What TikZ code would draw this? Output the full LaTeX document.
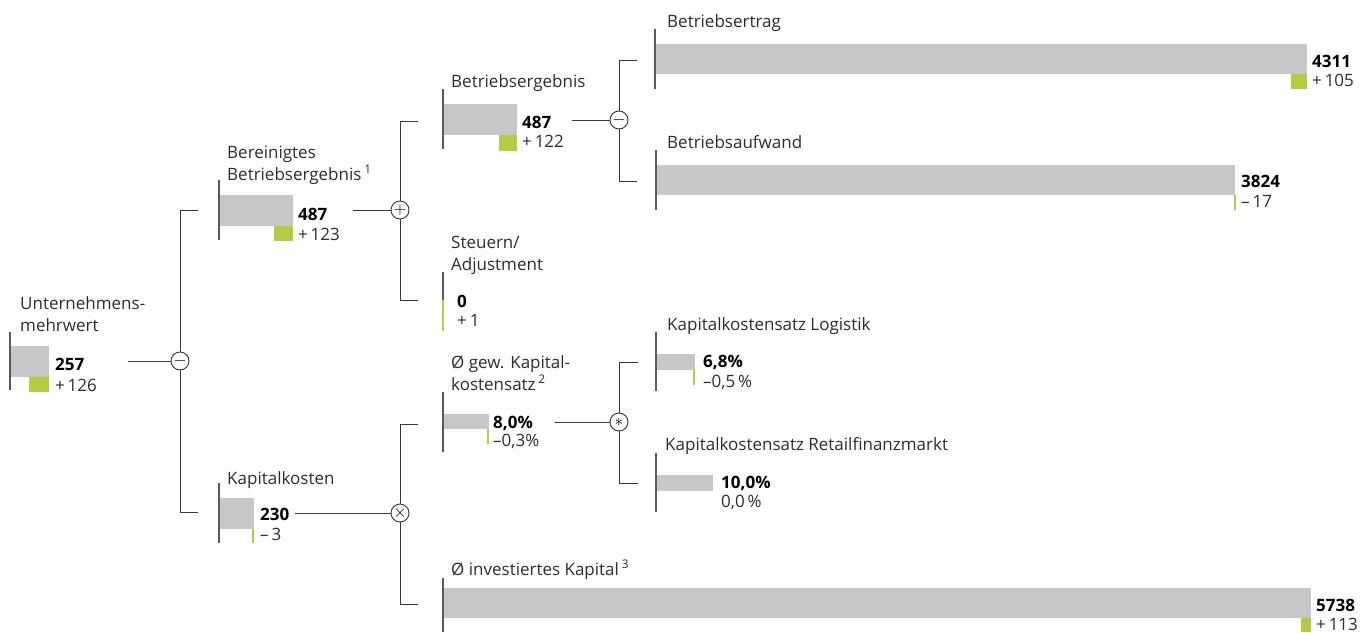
\documentclass[tikz,border=0pt]{standalone}
\usepackage{fontspec}
\setmainfont{Open Sans}
\usetikzlibrary{positioning}
\definecolor{bargray}{RGB}{198,199,201}
\definecolor{kpigreen}{RGB}{183,203,64}
\definecolor{axisgray}{RGB}{90,90,90}
\definecolor{linegray}{RGB}{55,55,55}
\definecolor{txtgray}{RGB}{45,45,45}

\begin{document}
\begin{tikzpicture}[x=1pt,y=-1pt,font=\fontsize{17}{22}\selectfont,
  every node/.style={inner sep=0pt,anchor=base west,text=txtgray},
  lbl/.style={align=left},
  val/.style={font=\fontsize{17}{22}\selectfont\bfseries,text=black},
  axis/.style={draw=axisgray,line width=1.3pt},
  chgline/.style={draw=kpigreen,line width=1.6pt},
  link/.style={draw=linegray,line width=0.9pt},
  op/.style={circle,draw=linegray,line width=0.9pt,fill=white,anchor=center,
    minimum size=18pt,text=black,font=\fontsize{16}{16}\selectfont}]
\useasboundingbox (0,0) rectangle (1368,632);
% --- Unternehmensmehrwert
\node[lbl] (mw) at (20,331) {Unternehmens-\\mehrwert};
\fill[bargray] (10,346) rectangle (49,377);
\fill[kpigreen] (29,377) rectangle (49,392);
\draw[axis] (10,332) -- (10,390);
\node[val] (mw-val) at (55,370) {257};
\node (mw-chg) at (55,391) {+\,126};
% --- Bereinigtes Betriebsergebnis
\node[lbl] (bbe) at (227,180) {Bereinigtes\\Betriebsergebnis\,\textsuperscript{1}};
\fill[bargray] (219,195) rectangle (293,226);
\fill[kpigreen] (274,226) rectangle (293,241);
\draw[axis] (219,180) -- (219,240);
\node[val] (bbe-val) at (298,220) {487};
\node (bbe-chg) at (298,240) {+\,123};
% --- Betriebsergebnis
\node (be) at (451,87) {Betriebsergebnis};
\fill[bargray] (443,104) rectangle (517,135);
\fill[kpigreen] (499,135) rectangle (517,151);
\draw[axis] (443,89) -- (443,149);
\node[val] (be-val) at (522,128) {487};
\node (be-chg) at (522,147) {+\,122};
% --- Betriebsertrag
\node (ber) at (667,27) {Betriebsertrag};
\fill[bargray] (655,44) rectangle (1307,74);
\fill[kpigreen] (1291,74) rectangle (1307,89);
\draw[axis] (655,29) -- (655,89);
\node[val] (ber-val) at (1312,67) {4311};
\node (ber-chg) at (1312,86) {+\,105};
% --- Betriebsaufwand
\node (bea) at (667,148) {Betriebsaufwand};
\fill[bargray] (656,165) rectangle (1235,195);
\draw[chgline] (1235,195) -- (1235,210);
\draw[axis] (656,150) -- (656,210);
\node[val] (bea-val) at (1241,187) {3824};
\node (bea-chg) at (1241,207) {–\,17};
% --- Steuern/Adjustment
\node[lbl] (st) at (451,270) {Steuern/\\Adjustment};
\draw[axis] (443,272) -- (443,300);
\draw[chgline] (443,300) -- (443,331);
\node[val] (st-val) at (457,307) {0};
\node (st-chg) at (457,326) {+\,1};
% --- Kapitalkosten
\node (kk) at (227,484) {Kapitalkosten};
\fill[bargray] (219,498) rectangle (254,529);
\draw[chgline] (253,529) -- (253,543);
\draw[axis] (219,483) -- (219,543);
\node[val] (kk-val) at (260,520) {230};
\node (kk-chg) at (260,540) {–\,3};
% --- Kapitalkostensatz
\node[lbl] (wacc) at (451,390) {Ø gew. Kapital-\\kostensatz\,\textsuperscript{2}};
\fill[bargray] (443,414) rectangle (489,429);
\draw[chgline] (488,429) -- (488,444);
\draw[axis] (443,392) -- (443,452);
\node[val] (wacc-val) at (493,428) {8,0\%};
\node (wacc-chg) at (493,446) {–0,3\%};
% --- Kapitalkostensatz Logistik
\node (kl) at (667,330) {Kapitalkostensatz Logistik};
\fill[bargray] (656,354) rectangle (695,370);
\draw[chgline] (694,370) -- (694,385);
\draw[axis] (656,332) -- (656,391);
\node[val] (kl-val) at (703,367) {6,8\%};
\node (kl-chg) at (703,387) {–0,5\,\%};
% --- Kapitalkostensatz Retailfinanzmarkt
\node (kr) at (665,450) {Kapitalkostensatz Retailfinanzmarkt};
\fill[bargray] (656,475) rectangle (713,491);
\draw[axis] (656,453) -- (656,512);
\node[val] (kr-val) at (721,488) {10,0\%};
\node (kr-chg) at (721,507) {0,0\,\%};
% --- investiertes Kapital
\node (ik) at (451,575) {Ø investiertes Kapital\,\textsuperscript{3}};
\fill[bargray] (443,588) rectangle (1311,618);
\fill[kpigreen] (1301,618) rectangle (1311,632);
\draw[axis] (443,578) -- (443,632);
\node[val] (ik-val) at (1316,611) {5738};
\node (ik-chg) at (1316,630) {+\,113};
% operators
\node[op] (op-mw) at (180,361) {$-$};
\node[op] (op-bbe) at (400,210) {$+$};
\node[op] (op-be) at (619,120) {$-$};
\node[op] (op-kk) at (400,513) {$\times$};
\node[op] (op-wacc) at (619,422) {$\ast$};
% connector ends
\coordinate (mw-out) at (128,361);
\coordinate (bbe-out) at (353,210);
\coordinate (be-out) at (572,120);
\coordinate (kk-out) at (295,513);
\coordinate (wacc-out) at (555,422);
\coordinate (bbe-in) at (198,210);
\coordinate (kk-in) at (198,512);
\coordinate (be-in) at (418,121);
\coordinate (st-in) at (418,300);
\coordinate (ber-in) at (637,60);
\coordinate (bea-in) at (637,181);
\coordinate (wacc-in) at (418,424);
\coordinate (ik-in) at (418,604);
\coordinate (kl-in) at (638,362);
\coordinate (kr-in) at (638,483);
% tree connectors
\draw[link] (mw-out) -- (op-mw);
\draw[link] (bbe-in) -| (op-mw);
\draw[link] (kk-in) -| (op-mw);
\draw[link] (bbe-out) -- (op-bbe);
\draw[link] (be-in) -| (op-bbe);
\draw[link] (st-in) -| (op-bbe);
\draw[link] (be-out) -- (op-be);
\draw[link] (ber-in) -| (op-be);
\draw[link] (bea-in) -| (op-be);
\draw[link] (kk-out) -- (op-kk);
\draw[link] (wacc-in) -| (op-kk);
\draw[link] (ik-in) -| (op-kk);
\draw[link] (wacc-out) -- (op-wacc);
\draw[link] (kl-in) -| (op-wacc);
\draw[link] (kr-in) -| (op-wacc);
\end{tikzpicture}
\end{document}
